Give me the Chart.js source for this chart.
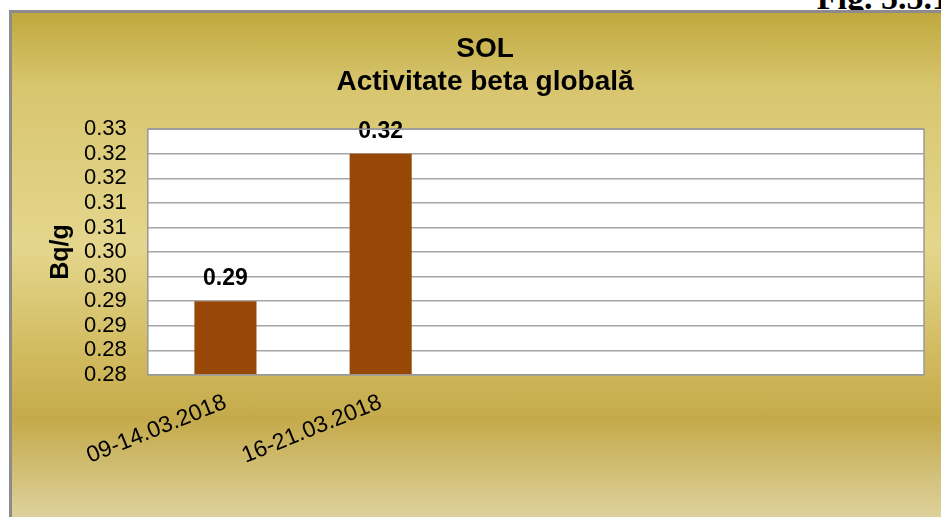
<!DOCTYPE html>
<html>
<head>
<meta charset="utf-8">
<script src="https://cdn.jsdelivr.net/npm/chart.js@4.4.0/dist/chart.umd.min.js"></script>
<style>
    html, body { margin: 0; padding: 0; background: #ffffff; overflow: hidden; width: 941px; height: 517px; }
    #fig {
        position: absolute; right: -8px; top: -21px; z-index: 1;
        font: bold 34px "Liberation Serif", "DejaVu Serif", serif; color: #000;
    }
    #frame {
        position: absolute; left: 9px; top: 10px; width: 950px; height: 520px; z-index: 2;
        border-left: 3px solid #8c8c8c; border-top: 3px solid #8c8c8c;
        background: linear-gradient(to bottom, #bfa93e 0%, #d8c56e 14%, #e4d68d 45%, #d0b95c 67%, #c4aa4b 78%, #e2d7a8 100%);
    }
    #chart { position: absolute; left: 0; top: 0; }
</style>
</head>
<body>
<div id="fig">Fig. 5.5.1</div>
<div id="frame">
    <canvas id="chart" width="929" height="504"></canvas>
</div>
<script>
// Chart data
const categories = ['09-14.03.2018', '16-21.03.2018', '', '', ''];
const betaValues = [0.29, 0.32, null, null, null];
const yTickValues = [0.275, 0.28, 0.285, 0.29, 0.295, 0.30, 0.305, 0.31, 0.315, 0.32, 0.325];
const yTickLabels = ['0.28', '0.28', '0.29', '0.29', '0.30', '0.30', '0.31', '0.31', '0.32', '0.32', '0.33'];

const FONT = '"Liberation Sans", Arial, sans-serif';

// white plot area with a grey frame
const plotArea = {
    id: 'plotArea',
    beforeDraw(chart) {
        const a = chart.chartArea, ctx = chart.ctx;
        ctx.save();
        ctx.fillStyle = '#ffffff';
        ctx.fillRect(a.left, a.top, a.right - a.left, a.bottom - a.top);
        ctx.restore();
    },
    afterDraw(chart) {
        const a = chart.chartArea, ctx = chart.ctx;
        ctx.save();
        ctx.strokeStyle = '#9a9a9a';
        ctx.lineWidth = 1.5;
        ctx.strokeRect(a.left, a.top, a.right - a.left, a.bottom - a.top);
        ctx.restore();
    }
};

// value labels above the bars
const valueLabels = {
    id: 'valueLabels',
    afterDatasetsDraw(chart) {
        const ctx = chart.ctx;
        const meta = chart.getDatasetMeta(0);
        ctx.save();
        ctx.font = 'bold 23px ' + FONT;
        ctx.fillStyle = '#000';
        ctx.textAlign = 'center';
        ctx.textBaseline = 'alphabetic';
        meta.data.forEach((bar, i) => {
            const v = betaValues[i];
            if (v === null) return;
            ctx.fillText(v.toFixed(2), bar.x, bar.y - 16);
        });
        ctx.restore();
    }
};

const ctx = document.getElementById('chart').getContext('2d');
new Chart(ctx, {
    type: 'bar',
    data: {
        labels: categories,
        datasets: [{
            label: 'Bq/g',
            data: betaValues,
            backgroundColor: '#974806',
            borderWidth: 0,
            barPercentage: 0.4,
            categoryPercentage: 1.0
        }]
    },
    options: {
        responsive: false,
        animation: false,
        layout: {
            padding: { left: 34, right: 17, top: 0, bottom: 33 }
        },
        plugins: {
            legend: { display: false },
            tooltip: { enabled: false },
            title: {
                display: true,
                text: ['SOL', 'Activitate beta globală'],
                color: '#000',
                font: { family: FONT, size: 28, weight: 'bold', lineHeight: 1.2 },
                padding: { top: 19, bottom: 30 }
            }
        },
        scales: {
            x: {
                grid: { display: false, drawTicks: false },
                border: { display: true, color: '#9a9a9a' },
                ticks: {
                    color: '#000',
                    font: { family: FONT, size: 23 },
                    minRotation: 22,
                    maxRotation: 22,
                    autoSkip: false,
                    padding: 14
                }
            },
            y: {
                min: 0.275,
                max: 0.325,
                afterBuildTicks: (scale) => {
                    scale.ticks = yTickValues.map(v => ({ value: v }));
                },
                grid: { color: '#a6a6a6', lineWidth: 1.5, drawTicks: false },
                border: { display: true, color: '#9a9a9a' },
                ticks: {
                    color: '#000',
                    font: { family: FONT, size: 22 },
                    padding: 21,
                    autoSkip: false,
                    callback: (value, index) => yTickLabels[index]
                },
                title: {
                    display: true,
                    text: 'Bq/g',
                    color: '#000',
                    font: { family: FONT, size: 25, weight: 'bold' },
                    padding: { top: 0, bottom: -13 }
                }
            }
        }
    },
    plugins: [plotArea, valueLabels]
});
</script>
</body>
</html>
